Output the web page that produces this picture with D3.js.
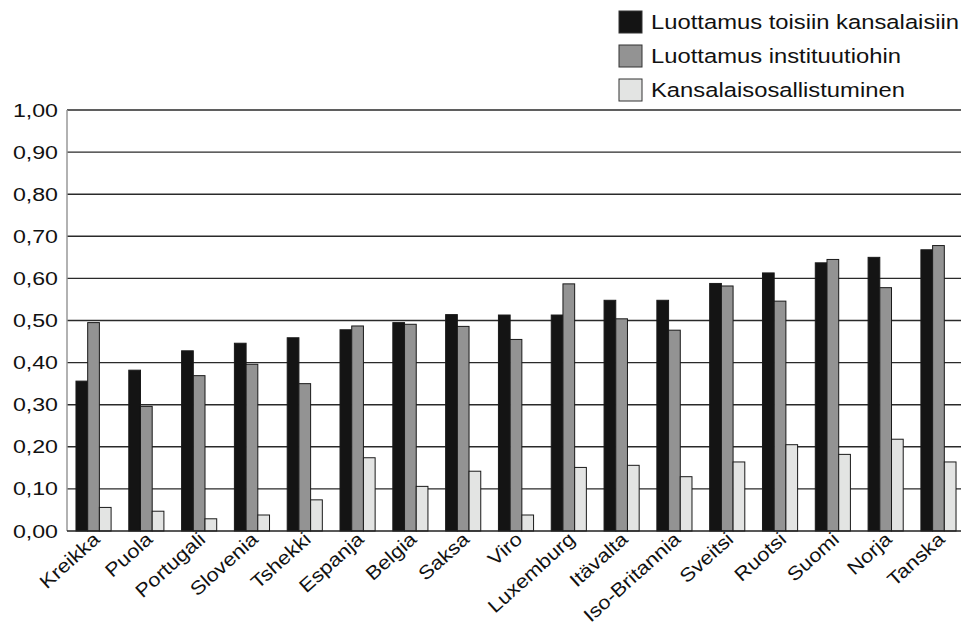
<!DOCTYPE html>
<html><head><meta charset="utf-8">
<script src="https://cdn.jsdelivr.net/npm/d3@7"></script>
<style>body{margin:0;background:#fff}svg{display:block}text{font-family:"Liberation Sans",Arial,sans-serif}</style>
</head><body><svg id="c" width="961" height="625"></svg>
<script>
const categories = ["Kreikka","Puola","Portugali","Slovenia","Tshekki","Espanja","Belgia","Saksa","Viro","Luxemburg","Itävalta","Iso-Britannia","Sveitsi","Ruotsi","Suomi","Norja","Tanska"];
const seriesNames = ["Luottamus toisiin kansalaisiin","Luottamus instituutiohin","Kansalaisosallistuminen"];
const trustPeople = [0.356,0.382,0.428,0.446,0.459,0.478,0.495,0.514,0.513,0.513,0.548,0.548,0.588,0.613,0.637,0.650,0.668];
const trustInst   = [0.495,0.296,0.369,0.396,0.350,0.487,0.491,0.486,0.455,0.587,0.504,0.477,0.582,0.546,0.645,0.578,0.678];
const participation = [0.056,0.047,0.029,0.038,0.074,0.174,0.106,0.142,0.038,0.151,0.156,0.129,0.164,0.205,0.182,0.218,0.164];
const yTicks = [0,0.1,0.2,0.3,0.4,0.5,0.6,0.7,0.8,0.9,1.0];
const colors = ["#141414","#939393","#e3e4e3"];

const SX = 1.22; // horizontal stretch of the reference lettering
const svg = d3.select("#c");
const x0 = 67, x1 = 965, yTop = 110, yBot = 531;
const x = d3.scaleBand().domain(categories).range([x0,x1]).paddingInner(0.335).paddingOuter(0.17);
const y = d3.scaleLinear().domain([0,1]).range([yBot,yTop]);
const xs = d3.scaleBand().domain([0,1,2]).range([0,x.bandwidth()]);

// gridlines
svg.append("g").selectAll("line").data(yTicks.filter(d=>d>0)).join("line")
  .attr("x1",x0).attr("x2",961).attr("y1",d=>y(d)).attr("y2",d=>y(d))
  .attr("stroke","#2a2a2a").attr("stroke-width",1.4);

// y axis labels
const yAxis = d3.axisLeft(y).tickValues(yTicks).tickSize(0).tickPadding(0)
  .tickFormat(d=>d3.format(".2f")(d).replace(".",","));
const ga = svg.append("g").attr("transform",`translate(58,0)`).call(yAxis);
ga.select(".domain").remove();
ga.selectAll("text").attr("font-size",19).attr("fill","#111")
  .attr("font-family","Liberation Sans, Arial, sans-serif")
  .attr("x",0).attr("transform",`scale(${SX},1)`);

const data = [trustPeople, trustInst, participation];
const g = svg.append("g");
categories.forEach((c,i)=>{
  data.forEach((s,k)=>{
    g.append("rect")
      .attr("x",x(c)+xs(k)).attr("width",xs.bandwidth())
      .attr("y",y(s[i])).attr("height",yBot-y(s[i]))
      .attr("fill",colors[k]).attr("stroke","#1a1a1a").attr("stroke-width",1);
  });
});

// axis lines
svg.append("line").attr("x1",x0).attr("x2",x0).attr("y1",yTop).attr("y2",yBot).attr("stroke","#999").attr("stroke-width",1.5);
svg.append("line").attr("x1",x0).attr("x2",961).attr("y1",yBot).attr("y2",yBot).attr("stroke","#222").attr("stroke-width",1.5);

// x labels
const xAxis = d3.axisBottom(x).tickSize(0).tickPadding(0);
const gx = svg.append("g").attr("transform",`translate(0,${yBot})`).call(xAxis);
gx.select(".domain").remove();
gx.selectAll("text").attr("font-size",19).attr("fill","#111")
  .attr("font-family","Liberation Sans, Arial, sans-serif")
  .attr("text-anchor","end").attr("dy","0.35em").attr("y",0)
  .attr("transform",`translate(3,5) rotate(-42) scale(1.15,1)`);

// legend
const lg = svg.append("g");
seriesNames.forEach((n,k)=>{
  const yy = 11 + k*34;
  lg.append("rect").attr("x",619).attr("y",yy).attr("width",23).attr("height",22)
    .attr("fill",colors[k]).attr("stroke","#333").attr("stroke-width",1);
  lg.append("text").attr("transform",`translate(651,${yy+11}) scale(${SX},1)`).attr("dy","0.35em")
    .attr("font-size",19.5).attr("fill","#111").text(n);
});
</script></body></html>
